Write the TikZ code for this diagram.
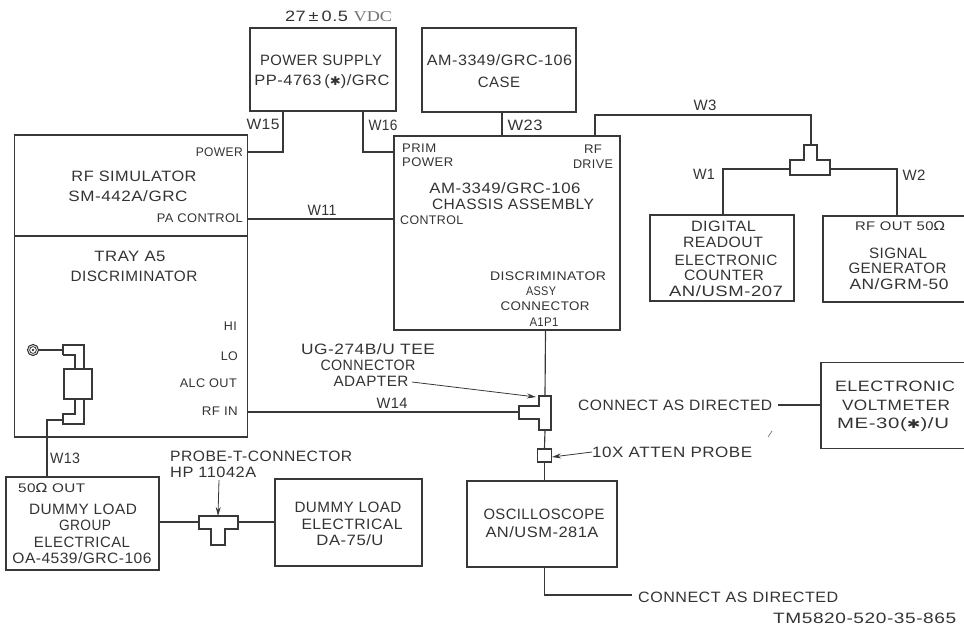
\documentclass[tikz,border=0pt]{standalone}
\usepackage{fontspec}
\usetikzlibrary{arrows.meta,calc}
\setmainfont[LetterSpace=3]{Liberation Sans}
\newfontfamily\symfont{DejaVu Sans}
\newfontfamily\vdcfont{Liberation Serif}
\newcommand\sym{{\symfont\scalebox{0.8}{✱}}}
\newcommand\ohm{{\symfont Ω}}
\newcommand\W[2]{\resizebox{#1pt}{\height}{#2}}
\tikzset{
  wire/.style={draw=black!78,line width=1.15pt,line join=miter},
  box/.style={wire,rectangle,inner sep=0pt},
  lab/.style={inner sep=0pt,text=black!80,font=\fontsize{15}{15}\selectfont},
  sm/.style={inner sep=0pt,text=black!80,font=\fontsize{12.5}{12.5}\selectfont},
  tip/.style={wire,line width=.8pt,-{Stealth[length=9pt,width=5pt]}}
}
\begin{document}
\begin{tikzpicture}[x=1pt,y=-1pt]
\clip (0,0) rectangle (964,627);
% boxes
\node[box,minimum width=146pt,minimum height=83pt] (ps) at (323,69.5) {};
\node[box,minimum width=154pt,minimum height=84pt] (case) at (499,70) {};
\node[box,minimum width=233pt,minimum height=101pt] (sim) at (131,185.5) {};
\node[box,minimum width=233pt,minimum height=201pt] (tray) at (131,336.5) {};
\node[box,minimum width=226pt,minimum height=194pt] (chassis) at (507,233) {};
\node[box,minimum width=144pt,minimum height=86pt] (digital) at (722,258) {};
\node[box,minimum width=160pt,minimum height=86pt] (siggen) at (903,259) {};
\node[box,minimum width=160pt,minimum height=86pt] (volt) at (901,405.5) {};
\node[box,minimum width=150pt,minimum height=86pt] (scope) at (542,524) {};
\node[box,minimum width=153pt,minimum height=93pt] (group) at (82.5,523.5) {};
\node[box,minimum width=147pt,minimum height=87pt] (dummy) at (348.5,522.5) {};
\node[box,minimum width=14pt,minimum height=13pt] (probe) at (544.5,455.5) {};
\node[box,minimum width=28pt,minimum height=30pt] (disc) at (78,384) {};
% tee connectors
\coordinate (teeA) at (811,146);
\draw[wire,fill=white] (804,145) -- (817,145) -- (817,160) -- (830,160) -- (830,175) -- (790,175) -- (790,160) -- (804,160) -- cycle;
\draw[wire,fill=white] (199,516) -- (238,516) -- (238,529) -- (225,529) -- (225,545) -- (211,545) -- (211,529) -- (199,529) -- cycle;
\draw[wire,fill=white] (539,396) -- (551,396) -- (551,430) -- (539,430) -- (539,419) -- (519,419) -- (519,406) -- (539,406) -- cycle;
\coordinate (teeAL) at (790,169);
\coordinate (teeAR) at (830,169);
\coordinate (teeBL) at (199,522);
\coordinate (teeBR) at (238,522);
\coordinate (teeBT) at (218,516);
\coordinate (teeCT) at (545,396);
\coordinate (teeCB) at (545,430);
\coordinate (teeCL) at (519,412);
\coordinate (teeCA) at (536,397);
% connectors
\draw[wire] (283,0 |- ps.south) -- (283,152) -- (sim.east |- 0,152);
\draw[wire] (363,0 |- ps.south) -- (363,152) -- (chassis.west |- 0,152);
\draw[wire] (502,0 |- case.south) -- (502,0 |- chassis.north);
\draw[wire] (sim.east |- 0,219) -- (chassis.west |- 0,219);
\draw[wire] (595,0 |- chassis.north) -- (595,115) -- (811,115) -- (teeA);
\draw[wire] (teeAL) -- (723,169) -- (723,0 |- digital.north);
\draw[wire] (teeAR) -- (897,169) -- (897,0 |- siggen.north);
\draw[wire] (545.5,0 |- chassis.south) -- (teeCT);
\draw[wire] (tray.east |- teeCL) -- (teeCL);
\draw[wire] (teeCB) -- (probe.north);
\draw[wire] (probe.south) -- (544.5,0 |- scope.north);
\coordinate (cad) at (632,595);
\draw[wire] (544.5,0 |- scope.south) -- (544.5,595) -- (cad);
\coordinate (vc) at (778,405);
\draw[wire] (vc) -- (volt.west |- vc);
\draw[wire] (group.east |- teeBL) -- (teeBL);
\draw[wire] (teeBR) -- (dummy.west |- teeBR);
% discriminator connector
\node[wire,circle,minimum size=11pt,inner sep=0pt] (coax) at (33,350) {};
\fill[black!78] (coax) circle (1.4pt);
\draw[wire,line width=.8pt] (coax) circle (3.4pt);
\draw[wire] (coax.east) -- (63,350);
\draw[wire] (63,355) -- (63,345) -- (84,345) -- (84,0 |- disc.north);
\draw[wire] (63,355) -- (75,355) -- (75,0 |- disc.north);
\draw[wire] (75,0 |- disc.south) -- (75,414) -- (63,414) -- (63,424) -- (84,424) -- (84,0 |- disc.south);
\draw[wire] (62,420) -- (47,420) -- (47,0 |- group.north);
% arrows and stray mark
\coordinate (adp) at (412,382);
\draw[tip] (adp) -- (teeCA);
\coordinate (atn) at (592,452);
\draw[tip] (atn) -- (552,457);
\coordinate (pbt) at (219,480);
\draw[tip] (pbt) -- (teeBT);
\draw[wire,line width=.6pt,black!60] (768,437) -- (772,431);
% texts
\node[lab] (tv) at (338.5,16) {\W{107}{27\,±\,0.5 {\vdcfont\color{black!55}VDC}}};
\node[lab] (t1) at (321,60) {\W{122}{POWER SUPPLY}};
\node[lab] (t2) at (322,82) {\W{135}{PP-4763\,(\sym)/GRC}};
\node[lab] (t3) at (499.5,60) {\W{145}{AM-3349/GRC-106}};
\node[lab] (t4) at (499,82) {CASE};
\node[lab] (w15) at (263,124) {\W{33}{W15}};
\node[lab] (w16) at (383,125) {\W{29}{W16}};
\node[lab] (w23) at (525,125) {\W{35}{W23}};
\node[sm,anchor=east] (t5) at (243,152) {\W{47}{POWER}};
\node[lab] (t6) at (134,176) {\W{125}{RF SIMULATOR}};
\node[lab] (t7) at (128,196) {\W{119}{SM-442A/GRC}};
\node[sm,anchor=east] (t8) at (243,218) {\W{86}{PA CONTROL}};
\node[lab] (w11) at (322,210) {\W{29}{W11}};
\node[lab] (t9) at (130,256) {\W{71}{TRAY A5}};
\node[lab] (t10) at (134,276) {\W{127}{DISCRIMINATOR}};
\node[sm,anchor=east] (t11) at (237,326) {HI};
\node[sm,anchor=east] (t12) at (238,356) {\W{17}{LO}};
\node[sm,anchor=east] (t13) at (237,383) {\W{57}{ALC OUT}};
\node[sm,anchor=east] (t14) at (238,411) {\W{36}{RF IN}};
\node[lab] (w14) at (392,403) {\W{31}{W14}};
\node[lab] (w13) at (65,458) {\W{30}{W13}};
\node[sm,anchor=west] (t15) at (402,148) {\W{34}{PRIM}};
\node[sm,anchor=west] (t16) at (402,162) {\W{51}{POWER}};
\node[lab] (t17) at (505,188) {\W{151}{AM-3349/GRC-106}};
\node[lab] (t18) at (513,204) {\W{162}{CHASSIS ASSEMBLY}};
\node[sm,anchor=west] (t19) at (400,220) {\W{63}{CONTROL}};
\node[sm] (t20) at (593,149) {\W{18}{RF}};
\node[sm] (t21) at (593,164) {\W{40}{DRIVE}};
\node[sm] (t22) at (548,276) {\W{116}{DISCRIMINATOR}};
\node[sm] (t23) at (541,291) {\W{30}{ASSY}};
\node[sm] (t24) at (545,306) {\W{89}{CONNECTOR}};
\node[sm] (t25) at (544,322) {\W{29}{A1P1}};
\node[lab] (w3) at (705,105) {\W{23}{W3}};
\node[lab] (w1) at (704,174) {\W{22}{W1}};
\node[lab] (w2) at (914,175) {\W{23}{W2}};
\node[lab] (t26) at (723.5,226) {\W{65}{DIGITAL}};
\node[lab] (t27) at (723,242) {\W{80}{READOUT}};
\node[lab] (t28) at (726,260) {\W{103}{ELECTRONIC}};
\node[lab] (t29) at (724,275) {\W{80}{COUNTER}};
\node[lab] (t30) at (726,291) {\W{114}{AN/USM-207}};
\node[sm] (t31) at (900,226) {\W{90}{RF OUT 50\ohm}};
\node[lab] (t32) at (898,253) {\W{58}{SIGNAL}};
\node[lab] (t33) at (897.5,268) {\W{98}{GENERATOR}};
\node[lab] (t34) at (899,284) {\W{99}{AN/GRM-50}};
\node[lab] (t35) at (368,349) {\W{134}{UG-274B/U TEE}};
\node[lab] (t36) at (368,365) {\W{95}{CONNECTOR}};
\node[lab] (t37) at (371,381) {\W{75}{ADAPTER}};
\node[lab,anchor=west] (t38) at (170,456) {\W{182}{PROBE-T-CONNECTOR}};
\node[lab,anchor=west] (t39) at (170,472) {\W{86}{HP 11042A}};
\node[sm,anchor=west] (t40) at (18,488) {\W{67}{50\ohm\ OUT}};
\node[lab] (t41) at (83,509) {\W{108}{DUMMY LOAD}};
\node[lab] (t42) at (85,525) {\W{52}{GROUP}};
\node[lab] (t43) at (82,542) {\W{96}{ELECTRICAL}};
\node[lab] (t44) at (82,558) {\W{139}{OA-4539/GRC-106}};
\node[lab] (t45) at (348,507) {\W{107}{DUMMY LOAD}};
\node[lab] (t46) at (352,524) {\W{101}{ELECTRICAL}};
\node[lab] (t47) at (350,540) {\W{67}{DA-75/U}};
\node[lab,anchor=west] (t48) at (578,405) {\W{194}{CONNECT AS DIRECTED}};
\node[lab] (t49) at (895,386) {\W{120}{ELECTRONIC}};
\node[lab] (t50) at (896,405) {\W{108}{VOLTMETER}};
\node[lab] (t51) at (893,425) {\W{112}{ME-30(\sym)/U}};
\node[lab,anchor=west] (t52) at (592,452) {\W{160}{10X ATTEN PROBE}};
\node[lab] (t53) at (544,514) {\W{121}{OSCILLOSCOPE}};
\node[lab] (t54) at (542,532) {\W{113}{AN/USM-281A}};
\node[lab,anchor=west] (t55) at (638,597) {\W{200}{CONNECT AS DIRECTED}};
\node[lab,anchor=west] (t56) at (773,618) {\W{183}{TM5820-520-35-865}};
\end{tikzpicture}
\end{document}
